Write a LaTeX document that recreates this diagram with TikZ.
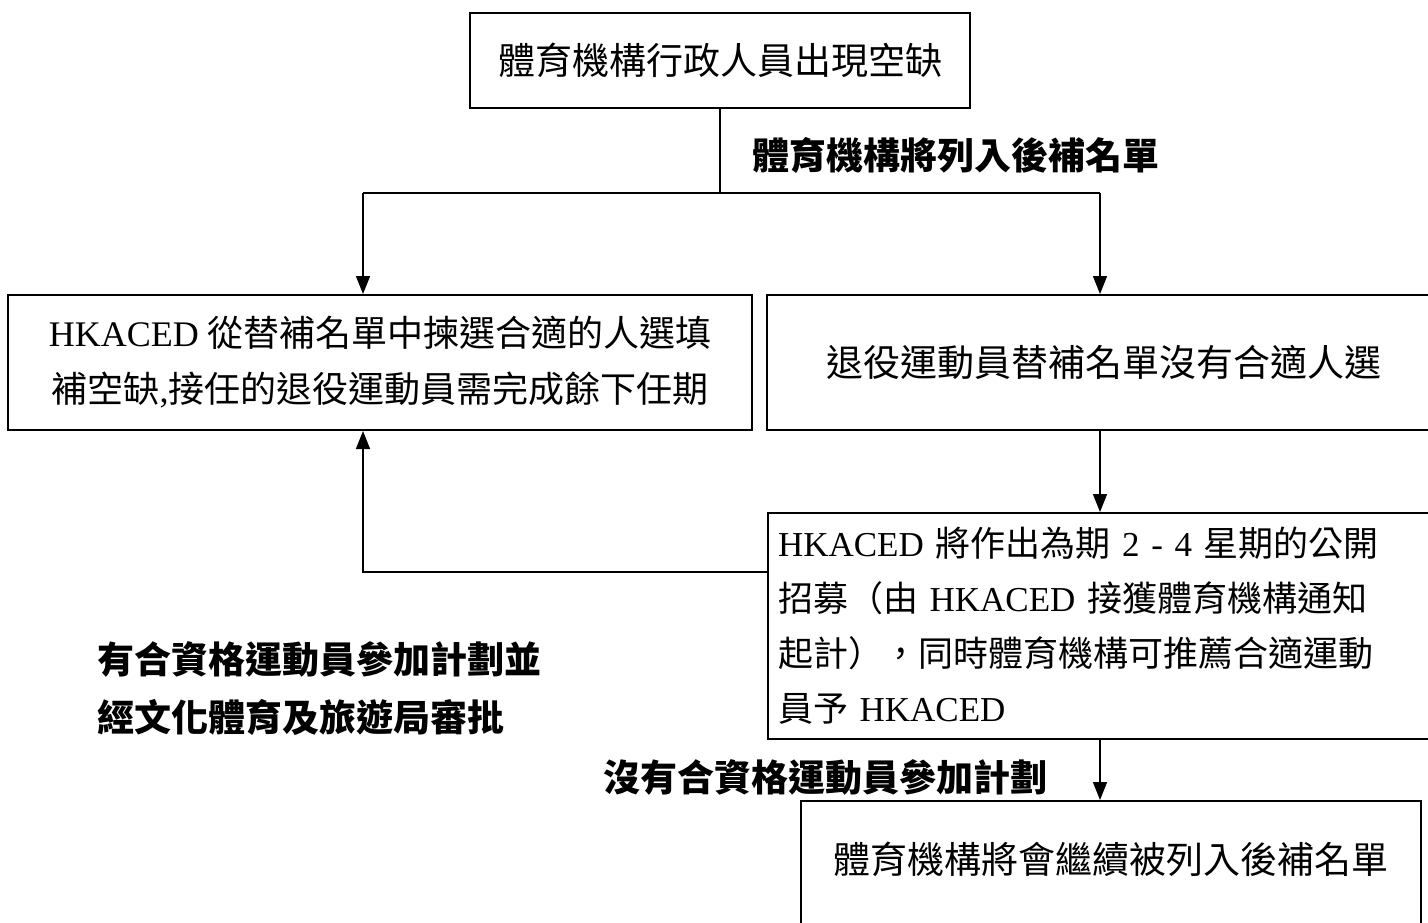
\documentclass[tikz,border=0pt]{standalone}
\usepackage{fontspec}
\setmainfont{Liberation Serif}
\newfontfamily\cjk{Noto Sans CJK TC}
\usetikzlibrary{arrows.meta,positioning,calc}
\newcommand{\hkaced}{{\rmfamily HKACED}}
\tikzset{
  box/.style={draw, line width=1pt, inner sep=0pt, font=\cjk\fontsize{18.5pt}{27.5pt}\selectfont},
  smallbox/.style={box, font=\cjk\fontsize{17.5pt}{27.5pt}\selectfont},
  note/.style={inner sep=0pt, font=\cjk\bfseries\fontsize{18.5pt}{29pt}\selectfont},
  link/.style={line width=0.75pt},
  arr/.style={link, -{Triangle[width=7pt,length=9pt]}},
}
\begin{document}
\begin{tikzpicture}[x=0.5pt,y=-0.5pt]
    \useasboundingbox (0,0) rectangle (1428,922);
    % boxes
    \node[box, minimum width=250pt, minimum height=47.5pt] (vacancy) at (720,60) {體育機構行政人員出現空缺};
    \node[box, font=\cjk\fontsize{18pt}{28pt}\selectfont, minimum width=372pt, minimum height=67.5pt, align=center] (pick) at (380,362.5)
        {\hkaced{} 從替補名單中揀選合適的人選填\\補空缺{\rmfamily,}接任的退役運動員需完成餘下任期};
    \node[box, minimum width=336.5pt, minimum height=67.5pt] (none) at (1103.5,362.5) {退役運動員替補名單沒有合適人選};
    \node[smallbox, anchor=north west, text width=326.5pt, inner xsep=5pt, minimum height=113pt, align=left] (recruit) at (767,512)
        {\hkaced{} 將作出為期{\rmfamily\ 2 - 4 }星期的公開\\招募（由 \hkaced{} 接獲體育機構通知\\起計），同時體育機構可推薦合適運動\\員予 \hkaced};
    \node[box, anchor=north west, minimum width=310pt, minimum height=80pt, text depth=23pt] (wait) at (800,800) {體育機構將會繼續被列入後補名單};

    % labels
    \node[note, anchor=west] (listed) at (752,155) {體育機構將列入後補名單};
    \node[note, anchor=north west, align=left] (approved) at (97,641) {有合資格運動員參加計劃並\\經文化體育及旅遊局審批};
    \node[note, anchor=west] (noqual) at (603,777) {沒有合資格運動員參加計劃};

    % connectors
    \coordinate (jl) at (363,193);
    \coordinate (jr) at (1100,193);
    \coordinate (back) at (363,572);
    \draw[link] (vacancy.south) -- (vacancy.south |- jl);
    \draw[link] (jl) -- (jr);
    \draw[arr] (jl) -- (jl |- pick.north);
    \draw[arr] (jr) -- (jr |- none.north);
    \draw[arr] (jr |- none.south) -- (jr |- recruit.north);
    \draw[arr] (back -| recruit.west) -- (back) -- (back |- pick.south);
    \draw[arr] (jr |- recruit.south) -- (jr |- wait.north);
\end{tikzpicture}
\end{document}
